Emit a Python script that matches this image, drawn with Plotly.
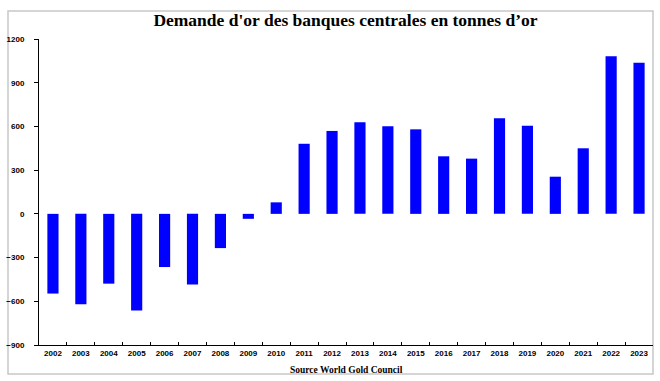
import plotly.graph_objects as go

years = [str(y) for y in range(2002, 2024)]
demand = [-547, -620, -479, -663, -365, -484, -235, -34, 79, 481, 569, 629,
          601, 580, 395, 379, 656, 605, 255, 450, 1082, 1037]
y_ticks = [-900, -600, -300, 0, 300, 600, 900, 1200]
title_text = "Demande d'or des banques centrales en tonnes d\u2019or"
source_text = "Source World Gold Council"

W, H = 660, 381
L, R, T, B = 39, 7, 39, 36
pw, ph = W - L - R, H - T - B

def px_to_paper_x(px):
    return (px - L) / pw

def px_to_paper_y(py):
    return (H - B - py) / ph

fig = go.Figure(go.Bar(x=years, y=demand, marker=dict(color="#0000FF", line=dict(width=0))))

fig.update_layout(
    width=W, height=H,
    margin=dict(l=L, r=R, t=T, b=B),
    paper_bgcolor="white", plot_bgcolor="white",
    bargap=0.6,
    showlegend=False,
    title=dict(text="<b>" + title_text + "</b>", x=345.5 / W, xanchor="center",
               y=1 - 20 / H, yanchor="middle", yref="container",
               font=dict(family="Liberation Serif", size=17.5, color="black")),
    xaxis=dict(type="category", showline=True, linecolor="black", linewidth=1,
               ticks="inside", ticklen=3, tickcolor="black", tickson="boundaries",
               tickangle=0, showgrid=False,
               tickfont=dict(family="Liberation Sans", size=8, color="black", weight="bold")),
    yaxis=dict(range=[-900, 1200], tickvals=y_ticks, showline=True, linecolor="black", linewidth=1,
               ticks="outside", ticklen=4, tickcolor="black", showgrid=False, zeroline=False,
               ticklabelstandoff=8,
               tickfont=dict(family="Liberation Sans", size=8, color="black", weight="bold")),
    shapes=[dict(type="rect", xref="paper", yref="paper",
                 x0=px_to_paper_x(8), x1=px_to_paper_x(653),
                 y0=px_to_paper_y(374), y1=px_to_paper_y(11),
                 line=dict(color="#C8C8C8", width=1.5), fillcolor="rgba(0,0,0,0)", layer="below")],
    annotations=[dict(text="<b>" + source_text + "</b>", xref="paper", yref="paper",
                      x=px_to_paper_x(346), y=px_to_paper_y(370), xanchor="center", yanchor="middle",
                      showarrow=False, font=dict(family="Liberation Serif", size=9.5, color="black"))],
)

fig.write_html("out.html", config={"displayModeBar": False},
               post_script="document.body.style.margin='0';document.body.style.padding='0';")
